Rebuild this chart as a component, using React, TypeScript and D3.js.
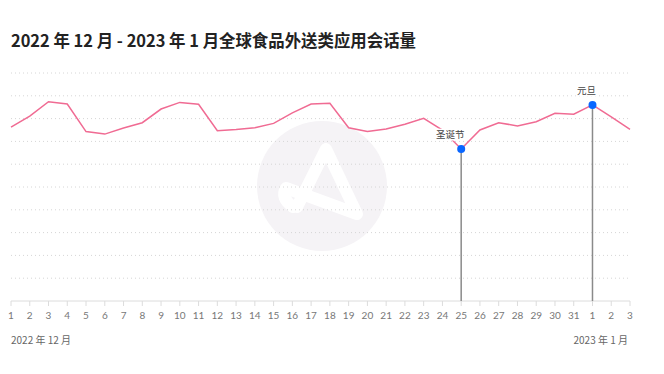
import React from "react";
import * as d3 from "d3";

const decDays = d3.range(1, 32).map(String);
const janDays = ["1", "2", "3"];
const dayLabels = [...decDays, ...janDays];

// session volume index
const sessions = [
  7.63, 8.11, 8.74, 8.64, 7.43, 7.32, 7.59, 7.82, 8.42, 8.71, 8.63, 7.47,
  7.52, 7.6, 7.79, 8.25, 8.64, 8.67, 7.6, 7.43, 7.54, 7.75, 8.01, 7.5, 6.67,
  7.5, 7.82, 7.68, 7.86, 8.23, 8.19, 8.6, 8.08, 7.53,
];

const gridValues = d3.range(1, 11);

const events = [
  { index: 24, label: "圣诞节", dx: -11 },
  { index: 31, label: "元旦", dx: -6 },
];

const title = "2022 年 12 月 - 2023 年 1 月全球食品外送类应用会话量";
const monthLeft = "2022 年 12 月";
const monthRight = "2023 年 1 月";

export default function App() {
  const width = 664;
  const height = 374;
  const left = 11;
  const right = 630;
  const baseY = 301;
  const topY = 73;

  const x = d3.scaleLinear().domain([0, dayLabels.length - 1]).range([left, right]);
  const y = d3.scaleLinear().domain([0, 10]).range([baseY, topY]);

  const line = d3
    .line<number>()
    .x((_, i) => x(i))
    .y((d) => y(d));

  const cjk = "'Noto Sans CJK SC', 'Noto Sans', sans-serif";

  return (
    <svg
      width={width}
      height={height}
      style={{ position: "absolute", left: 0, top: 0, background: "#fff" }}
    >
      {/* title */}
      <text
        x={left}
        y={47}
        fontFamily={cjk}
        fontWeight={700}
        fontSize={16.5}
        fill="#222"
        textLength={405}
        lengthAdjust="spacingAndGlyphs"
      >
        {title}
      </text>

      {/* watermark */}
      <g>
        <circle cx={322} cy={186} r={65} fill="#f5f3f6" />
        <path
          d="M297,207 L326,149 L357,214 L286,188 Q280,198 293,207"
          fill="none"
          stroke="#fff"
          strokeWidth={12}
          strokeLinejoin="round"
          strokeLinecap="round"
        />
      </g>

      {/* dotted grid */}
      {gridValues.map((v) => (
        <line
          key={v}
          x1={left}
          x2={right}
          y1={y(v)}
          y2={y(v)}
          stroke="#d6d6d6"
          strokeWidth={1}
          strokeDasharray="1,3"
        />
      ))}

      {/* x axis */}
      <line x1={left} x2={right} y1={baseY} y2={baseY} stroke="#dcdcdc" />
      {dayLabels.map((d, i) => (
        <g key={i} transform={`translate(${x(i)},${baseY})`}>
          <line y1={0} y2={5} stroke="#dcdcdc" />
          <text
            y={18}
            textAnchor="middle"
            fontFamily="Lato, 'Open Sans', sans-serif"
            fontSize={10}
            fill="#777"
          >
            {d}
          </text>
        </g>
      ))}
      <text x={left} y={344} fontFamily={cjk} fontSize={10} fill="#666">
        {monthLeft}
      </text>
      <text
        x={right - 2}
        y={344}
        textAnchor="end"
        fontFamily={cjk}
        fontSize={10}
        fill="#666"
      >
        {monthRight}
      </text>

      {/* event markers */}
      {events.map((e) => (
        <line
          key={e.label}
          x1={x(e.index)}
          x2={x(e.index)}
          y1={y(sessions[e.index])}
          y2={baseY}
          stroke="#8a8a8a"
          strokeWidth={1.5}
        />
      ))}

      {/* series */}
      <path d={line(sessions) ?? ""} fill="none" stroke="#f06b93" strokeWidth={1.5} />

      {events.map((e) => (
        <g key={e.label}>
          <text
            x={x(e.index) + e.dx}
            y={y(sessions[e.index]) - 11}
            textAnchor="middle"
            fontFamily={cjk}
            fontSize={9.5}
            fill="#444"
            stroke="#fff"
            strokeWidth={3}
            paintOrder="stroke"
          >
            {e.label}
          </text>
          <circle cx={x(e.index)} cy={y(sessions[e.index])} r={4} fill="#0a66ff" />
        </g>
      ))}
    </svg>
  );
}
